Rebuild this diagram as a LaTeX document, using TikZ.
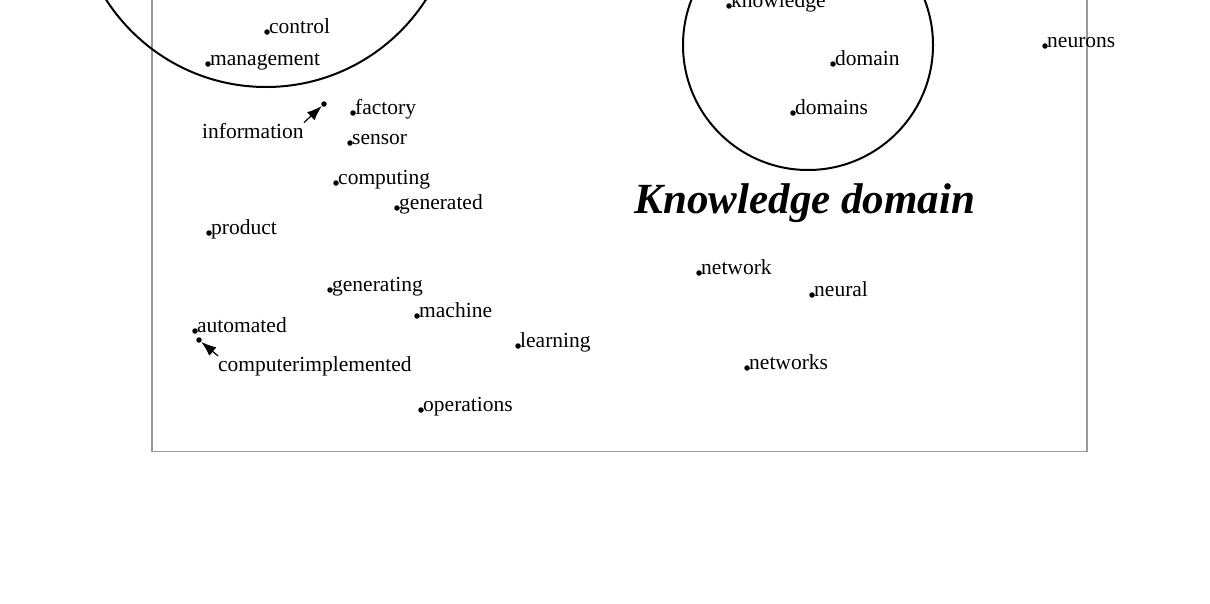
\documentclass[tikz,border=0pt]{standalone}
\usepackage{fontspec}
\setmainfont{Liberation Serif}
\usetikzlibrary{arrows.meta}

\begin{document}
\begin{tikzpicture}[x=1pt, y=-1pt,
    word/.style={anchor=base west, inner sep=0pt, font=\fontsize{21.5}{24}\selectfont},
    dot/.style={circle, fill, inner sep=0pt, minimum size=5.5pt},
    cluster/.style={draw, line width=2pt},
    pointer/.style={line width=1.2pt, -{Latex[length=15pt, width=11pt]}}]
    \useasboundingbox (0,0) rectangle (1210,603);
    \clip (0,0) rectangle (1210,603);
    % frame and clusters
    \draw[black!40, line width=1.5pt] (152,-100) rectangle (1087,451.5);
    \draw[cluster] (266,-103) circle[radius=190pt];
    \draw[cluster] (808,45) circle[radius=125pt];
    % labelled words
    \foreach \w/\x/\y in {control/267/32, management/208/64, factory/353/113,
        sensor/350/143, computing/336/183, generated/397/208, product/209/233,
        generating/330/290, machine/417/316, automated/195/331, learning/518/346,
        operations/421/410, knowledge/729/6, domain/833/64, domains/793/113,
        neurons/1045/46, network/699/273, neural/812/295, networks/747/368} {
        \node[dot] (d-\w) at (\x,\y) {};
        \node[word] (\w) at ([xshift=2pt, yshift=-1pt]d-\w.center) {\w};
    }
    % words pointing at their dots
    \node[dot] (d-information) at (324,104) {};
    \node[word] (information) at (202,138) {information};
    \draw[pointer] (information.north east) -- (d-information);
    \node[dot] (d-computerimplemented) at (199,340) {};
    \node[word] (computerimplemented) at (218,371) {computerimplemented};
    \draw[pointer] (computerimplemented.north west) -- (d-computerimplemented);
    \node[anchor=base, inner sep=0pt, font=\fontsize{43}{48}\selectfont\bfseries\itshape]
        (title) at (805,213) {Knowledge domain};
\end{tikzpicture}
\end{document}
